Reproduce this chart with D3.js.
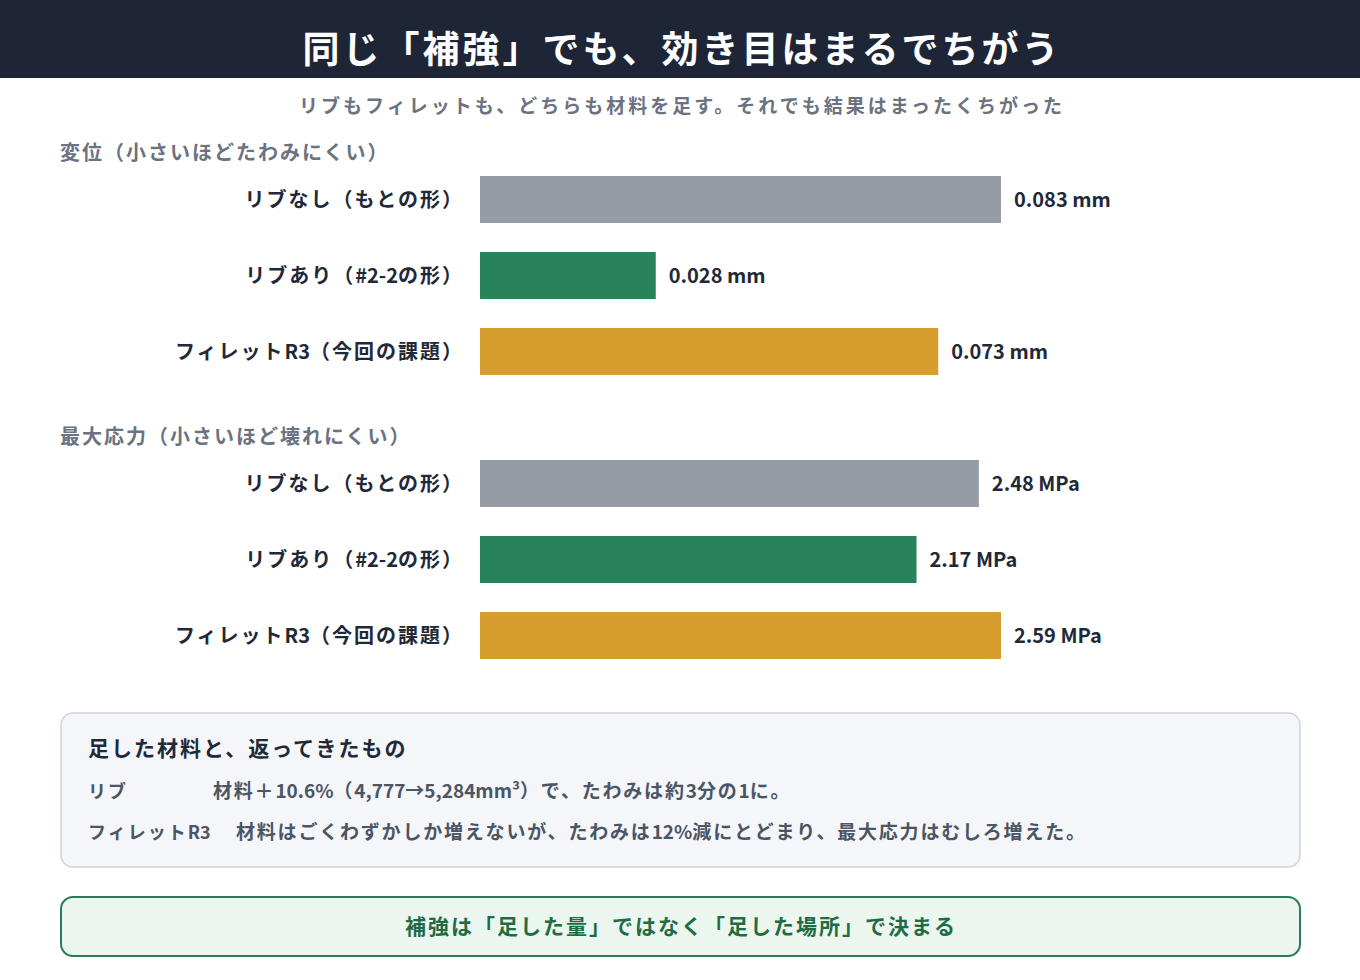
<!DOCTYPE html>
<html>
<head>
<meta charset="utf-8">
<script src="https://cdn.jsdelivr.net/npm/d3@7"></script>
<style>
  html, body { margin: 0; padding: 0; background: #ffffff; }
  svg { display: block; }
</style>
</head>
<body>
<div id="vis-container"></div>
<script>
// categories (same for both groups)
var categories = ["リブなし（もとの形）", "リブあり（#2-2の形）", "フィレットR3（今回の課題）"];
var barColors = ["#969ca6", "#28825a", "#d69e2f"];

// series values
var displacement = [0.083, 0.028, 0.073];
var stress = [2.48, 2.17, 2.59];

// group titles and units
var groupTitles = ["変位（小さいほどたわみにくい）", "最大応力（小さいほど壊れにくい）"];
var units = ["mm", "MPa"];
var formats = [d3.format(".3f"), d3.format(".2f")];

// texts
var title = "同じ「補強」でも、効き目はまるでちがう";
var subtitle = "リブもフィレットも、どちらも材料を足す。それでも結果はまったくちがった";
var noteTitle = "足した材料と、返ってきたもの";
var noteKeys = ["リブ", "フィレットR3"];
var noteTexts = ["材料＋10.6%（4,777→5,284mm³）で、たわみは約3分の1に。",
                 "材料はごくわずかしか増えないが、たわみは12%減にとどまり、最大応力はむしろ増えた。"];
var conclusion = "補強は「足した量」ではなく「足した場所」で決まる";

var width = 1360, height = 980;
var font = "'Noto Sans CJK JP', 'Noto Sans', sans-serif";

// latin runs are set tight, japanese runs get letter spacing
function spaced(sel, str, spacing) {
  var parts = str.match(/[A-Za-z0-9#.,%\-→³ ]+|[^A-Za-z0-9#.,%\-→³ ]+/g);
  sel.selectAll("tspan")
    .data(parts)
    .join("tspan")
    .attr("letter-spacing", function (p) { return /^[A-Za-z0-9#.,%\-→³ ]+$/.test(p) ? 0 : spacing; })
    .text(function (p) { return p; });
}

var svg = d3.select("#vis-container")
  .append("svg")
  .attr("width", width)
  .attr("height", height)
  .style("font-family", font);

// header band
svg.append("rect")
  .attr("x", 0).attr("y", 0)
  .attr("width", width).attr("height", 78)
  .attr("fill", "#1e2536");

svg.append("text")
  .attr("x", width / 2 + 2).attr("y", 63)
  .attr("text-anchor", "middle")
  .attr("fill", "#ffffff")
  .attr("font-size", 37)
  .attr("font-weight", 700)
  .attr("letter-spacing", 3)
  .text(title);

svg.append("text")
  .attr("x", width / 2 + 2).attr("y", 113)
  .attr("text-anchor", "middle")
  .attr("fill", "#6b7280")
  .attr("font-size", 19)
  .attr("font-weight", 700)
  .attr("letter-spacing", 3)
  .text(subtitle);

// bar groups
var groups = [displacement, stress];
var groupTop = [176, 460];
var barX = 480, barMax = 521;

groups.forEach(function (values, g) {
  var top = groupTop[g];

  var x = d3.scaleLinear()
    .domain([0, d3.max(values)])
    .range([0, barMax]);

  var y = d3.scaleBand()
    .domain(categories)
    .range([top - 14.5, top + 3 * 76 - 14.5])
    .paddingInner(29 / 76)
    .paddingOuter(14.5 / 76);

  svg.append("text")
    .attr("x", 60).attr("y", top - 16)
    .attr("fill", "#6b7280")
    .attr("font-size", 20)
    .attr("font-weight", 700)
    .attr("letter-spacing", 2)
    .text(groupTitles[g]);

  var rows = svg.append("g").selectAll("g")
    .data(values)
    .join("g");

  rows.append("rect")
    .attr("x", barX)
    .attr("y", function (d, i) { return y(categories[i]); })
    .attr("width", function (d) { return x(d); })
    .attr("height", y.bandwidth())
    .attr("fill", function (d, i) { return barColors[i]; });

  rows.append("text")
    .attr("x", 464)
    .attr("y", function (d, i) { return y(categories[i]) + y.bandwidth() / 2; })
    .attr("dy", "0.35em")
    .attr("text-anchor", "end")
    .attr("fill", "#1f2937")
    .attr("font-size", 20)
    .attr("font-weight", 700)
    .each(function (d, i) { spaced(d3.select(this), categories[i], 2); });

  rows.append("text")
    .attr("x", function (d) { return barX + x(d) + 13; })
    .attr("y", function (d, i) { return y(categories[i]) + y.bandwidth() / 2; })
    .attr("dy", "0.35em")
    .attr("fill", "#1f2937")
    .attr("font-size", 20)
    .attr("font-weight", 700)
    .text(function (d) { return formats[g](d) + " " + units[g]; });
});

// note box
svg.append("rect")
  .attr("x", 61).attr("y", 713)
  .attr("width", 1239).attr("height", 154)
  .attr("rx", 12)
  .attr("fill", "#f4f6fa")
  .attr("stroke", "#cdd3da")
  .attr("stroke-width", 1.5);

svg.append("text")
  .attr("x", 88).attr("y", 756)
  .attr("fill", "#1f2937")
  .attr("font-size", 21)
  .attr("font-weight", 700)
  .attr("letter-spacing", 2)
  .text(noteTitle);

var noteX = [213, 236];
noteKeys.forEach(function (k, i) {
  var yy = 798 + i * 41;
  spaced(svg.append("text")
    .attr("x", 88).attr("y", yy)
    .attr("fill", "#4b5563")
    .attr("font-size", 18)
    .attr("font-weight", 700), k, 2);
  spaced(svg.append("text")
    .attr("x", noteX[i]).attr("y", yy)
    .attr("fill", "#4b5563")
    .attr("font-size", 19)
    .attr("font-weight", 700), noteTexts[i], 1.8);
});

// conclusion box
svg.append("rect")
  .attr("x", 61).attr("y", 897)
  .attr("width", 1239).attr("height", 59)
  .attr("rx", 12)
  .attr("fill", "#eaf6ee")
  .attr("stroke", "#2a7d52")
  .attr("stroke-width", 2);

svg.append("text")
  .attr("x", width / 2 + 1).attr("y", 934)
  .attr("text-anchor", "middle")
  .attr("fill", "#1f6b45")
  .attr("font-size", 21)
  .attr("font-weight", 700)
  .attr("letter-spacing", 2)
  .text(conclusion);
</script>
</body>
</html>
